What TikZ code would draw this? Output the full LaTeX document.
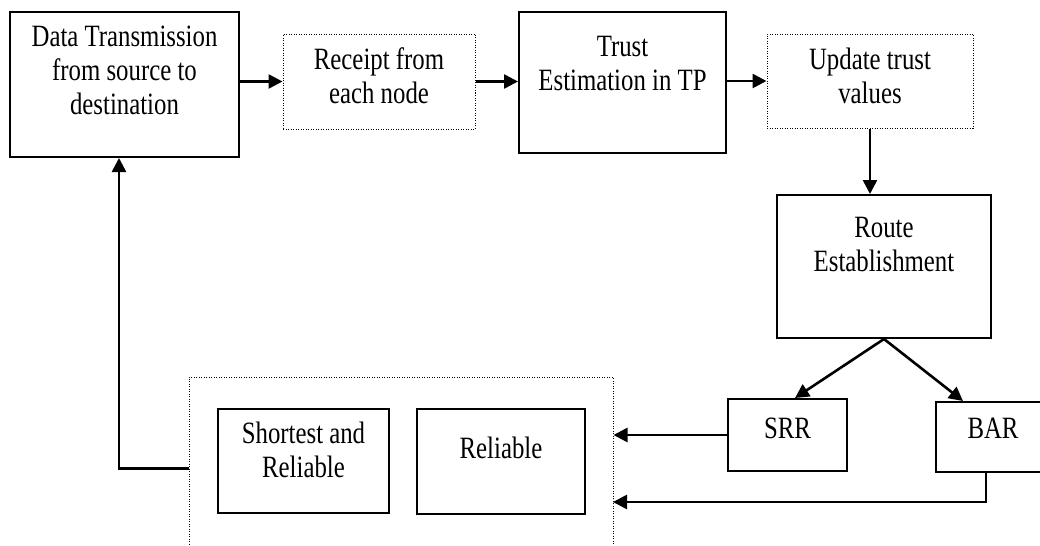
\documentclass[tikz,border=0pt]{standalone}
\usepackage{fontspec}
\setmainfont{Liberation Serif}
\newfontfamily\boxfont[FakeStretch=0.8]{Liberation Serif}
\usetikzlibrary{positioning}
\usetikzlibrary{arrows.meta}

\begin{document}
\begin{tikzpicture}[x=0.5pt,y=-0.5pt,
  box/.style={draw,line width=1pt,inner sep=0pt},
  dotbox/.style={draw,line width=0.5pt,dash pattern=on 0.5pt off 0.75pt,inner sep=0pt},
  txt/.style={inner sep=0pt,align=center,font=\boxfont\fontsize{15.5pt}{17pt}\selectfont,execute at begin node=\strut},
  arr/.style={line width=1.3pt,-{Triangle[length=7pt,width=7pt]}}]
 \useasboundingbox (0,0) rectangle (1040,546);
 \node[box,minimum width=114.5pt,minimum height=72.5pt] (dt) at (124.5,84.5) {};
 \node[txt,below=7.5pt of dt.north] (dtt) {Data Transmission\\from source to\\destination};
 \node[dotbox,minimum width=96pt,minimum height=47.5pt] (rc) at (379,81.5) {};
 \node[txt,below=7pt of rc.north] (rct) {Receipt from\\each node};
 \node[box,minimum width=103.5pt,minimum height=70.5pt] (te) at (622.5,82.5) {};
 \node[txt,below=12.5pt of te.north] (tet) {Trust\\Estimation in TP};
 \node[dotbox,minimum width=103pt,minimum height=47pt] (ut) at (870,81) {};
 \node[txt,below=7pt of ut.north] (utt) {Update trust\\values};
 \node[box,minimum width=107pt,minimum height=71.5pt] (re) at (884,266.5) {};
 \node[txt,below=11.5pt of re.north] (ret) {Route\\Establishment};
 \node[box,minimum width=59.5pt,minimum height=36pt] (srr) at (787.5,435) {};
 \node[txt,below=8pt of srr.north] (srrt) {SRR};
 \node[box,minimum width=57pt,minimum height=35pt] (bar) at (993,437) {};
 \node[txt,below=6.5pt of bar.north] (bart) {BAR};
 \node[dotbox,minimum width=212pt,minimum height=91.5pt] (grp) at (401,468.5) {};
 \node[box,minimum width=85.5pt,minimum height=52pt] (sr) at (303.5,461) {};
 \node[txt,below=7pt of sr.north] (srt) {Shortest and\\Reliable};
 \node[box,minimum width=84pt,minimum height=52.5pt] (rel) at (501,461.5) {};
 \node[txt,below=13pt of rel.north] (relt) {Reliable};
 \coordinate (barin) at (613,502);
 \draw[arr] (dt.east |- rc.west) -- (rc.west);
 \draw[arr] (rc.east) -- (rc.east -| te.west);
 \draw[arr] (te.east |- ut.west) -- (ut.west);
 \draw[arr] (ut.south) -- (ut.south |- re.north);
 \draw[arr] (re.south) -- ([xshift=3.75pt]srr.north);
 \draw[arr] (re.south) -- ([xshift=-15pt]bar.north);
 \draw[arr] (srr.west) -- (srr.west -| grp.east);
 \draw[arr] ([xshift=-3.5pt]bar.south) |- (barin);
 \draw[arr] (grp.west) -| ([xshift=-2.75pt]dt.south);
\end{tikzpicture}
\end{document}
